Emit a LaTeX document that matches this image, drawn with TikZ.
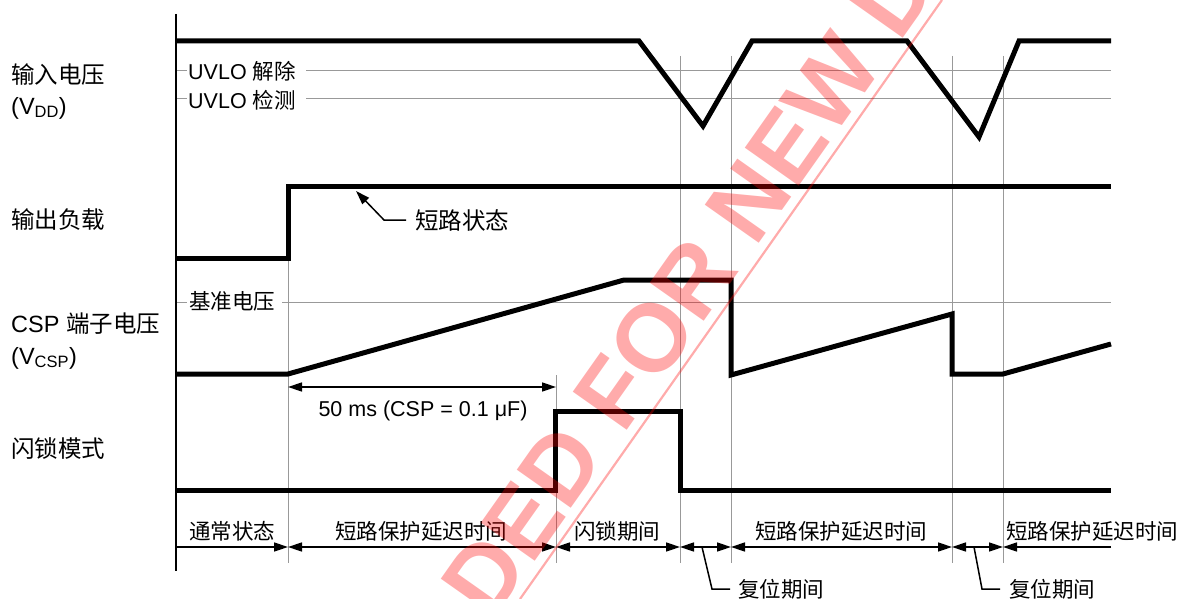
\documentclass[tikz,border=0pt]{standalone}
\usepackage{fontspec}
\setmainfont{Liberation Sans}
\newfontfamily\cjk{Noto Sans CJK SC}
\usetikzlibrary{arrows.meta}
\newcommand{\zh}[1]{{\cjk #1}}
\tikzset{
  x=1pt,y=-1pt,
  wave/.style={line width=5pt,line join=miter,miter limit=3},
  guide/.style={line width=1pt,draw=black!40},
  axisline/.style={line width=2pt},
  dim/.style={line width=1.5pt,{Triangle[length=14pt,width=9pt]}-{Triangle[length=14pt,width=9pt]}},
  dimr/.style={line width=1.5pt,-{Triangle[length=14pt,width=9pt]}},
  leader/.style={line width=1.5pt},
  lab/.style={font=\fontsize{21.5}{21.5}\selectfont,inner sep=0pt},
  llab/.style={lab,anchor=west},
  biglab/.style={llab,font=\fontsize{23.5}{23.5}\selectfont}
}
\begin{document}
\begin{tikzpicture}
\useasboundingbox (0,0) rectangle (1180,599);
\coordinate (t0) at (176,0);\coordinate (t1) at (288,0);\coordinate (t2) at (556,0);
\coordinate (t3) at (680,0);\coordinate (t4) at (731,0);\coordinate (t5) at (952,0);
\coordinate (t6) at (1003,0);\coordinate (t7) at (1111,0);
% guides
\foreach \n/\a in {t1/258,t2/375,t3/56,t4/56,t5/56,t6/56}{
  \draw[guide] (\n |- 0,\a) -- (\n |- 0,563);}
\draw[guide] (176,70.5) -- (187,70.5);
\draw[guide] (306,70.5) -- (1111,70.5);
\draw[guide] (176,99) -- (187,99);
\draw[guide] (306,99) -- (1111,99);
\draw[guide] (176,302) -- (187,302);
\draw[guide] (282,302) -- (1111,302);
% axis
\draw[axisline] (176,14) -- (176,571);
% waveforms
\draw[wave] (176,41) -- (639,41) -- (703,126) -- (752,41) -- (907,41) -- (979,137) -- (1019,41) -- (1111,41);
\draw[wave] (176,258) -- (288,258) -- (288,186) -- (1111,186);
\draw[wave] (176,374) -- (288,374) -- (624,280) -- (731,280) -- (731,375) -- (952,314) -- (952,374) -- (1003,374) -- (1111,344);
\draw[wave] (176,490) -- (555,490) -- (555,411) -- (680,411) -- (680,490) -- (1111,490);
% left labels
\node[biglab] (l1) at (11,75) {\zh{输入电压}};
\node[biglab] (l2) at (11,108) {(V\textsubscript{DD})};
\node[biglab] (l3) at (11,220) {\zh{输出负载}};
\node[biglab] (l4) at (11,324) {CSP \zh{端子电压}};
\node[biglab] (l5) at (11,358) {(V\textsubscript{CSP})};
\node[biglab] (l6) at (11,449) {\zh{闪锁模式}};
\node[llab] (u1) at (188,71) {UVLO \zh{解除}};
\node[llab] (u2) at (188,100) {UVLO \zh{检测}};
\node[llab] (b1) at (189,301) {\zh{基准电压}};
% short-circuit callout
\node[biglab] (sc) at (415,220) {\zh{短路状态}};
\coordinate (sctip) at (356,191);
\draw[leader,-{Triangle[length=14pt,width=9pt]}] ([xshift=-9pt]sc.west) -- (384,220) -- (sctip);
% 50 ms
\draw[dim] (t1 |- 0,387) -- (t2 |- 0,387);
\node[lab] (d50) at (423,411) {50 ms (CSP = 0.1 μF)};
% periods
\draw[dimr] (t0 |- 0,547) -- (t1 |- 0,547);
\draw[dim] (t1 |- 0,547) -- (t2 |- 0,547);
\draw[dim] (t2 |- 0,547) -- (t3 |- 0,547);
\draw[dim] (t3 |- 0,547) -- (t4 |- 0,547);
\draw[dim] (t4 |- 0,547) -- (t5 |- 0,547);
\draw[dim] (t5 |- 0,547) -- (t6 |- 0,547);
\draw[dimr] (t7 |- 0,547) -- (t6 |- 0,547);
\node[lab] (p1) at (232,531) {\zh{通常状态}};
\node[lab] (p2) at (421,531) {\zh{短路保护延迟时间}};
\node[lab] (p3) at (617,531) {\zh{闪锁期间}};
\node[lab] (p4) at (841,531) {\zh{短路保护延迟时间}};
\node[lab] (p5) at (1092,531) {\zh{短路保护延迟时间}};
\node[llab] (r1) at (738,589) {\zh{复位期间}};
\node[llab] (r2) at (1009,589) {\zh{复位期间}};
\coordinate (k1) at (702,547);\coordinate (k2) at (974,547);
\draw[leader] (k1) -- (712,589) -- ([xshift=-8pt]r1.west);
\draw[leader] (k2) -- (982,589) -- ([xshift=-9pt]r2.west);
% watermark
\begin{scope}
\clip (0,0) rectangle (1180,599);
\draw[line width=2.2pt,draw=red,opacity=.33] (942,0) -- (520,599);
\node[rotate=54.8,opacity=.33,text=red,inner sep=0pt,anchor=base west,font=\fontsize{96}{96}\selectfont\bfseries] (wm) at (491,623) {DED FOR NEW D};
\end{scope}
\end{tikzpicture}
\end{document}
